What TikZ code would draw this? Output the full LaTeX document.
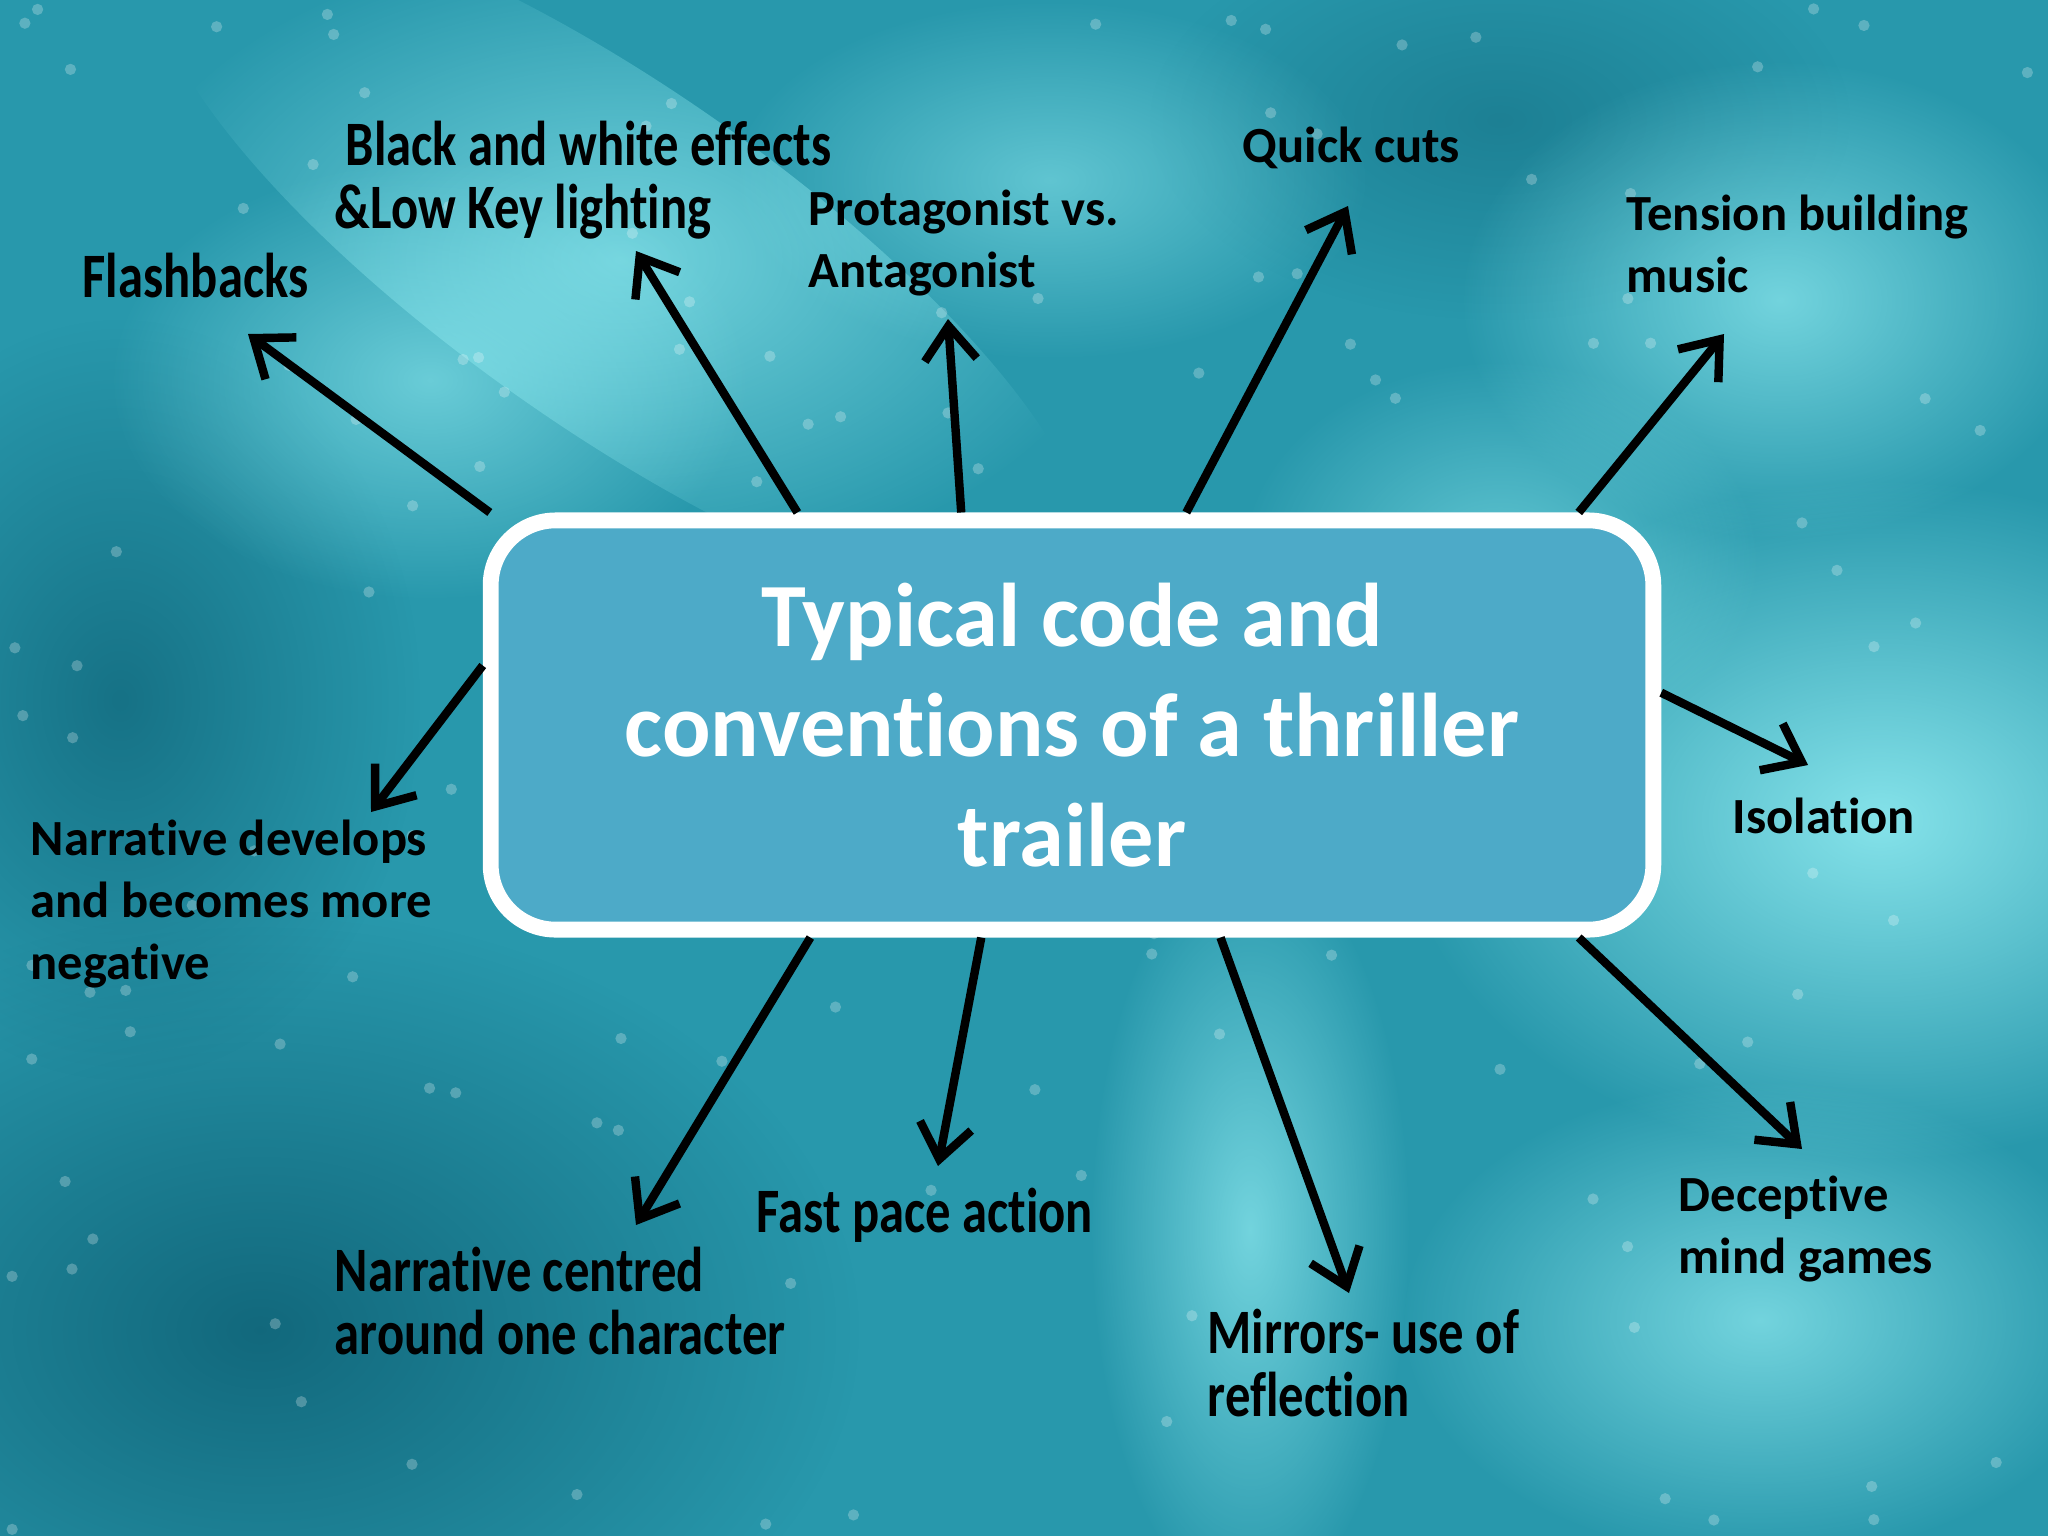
\documentclass[tikz,border=0pt]{standalone}
\usepackage{fontspec}
\setmainfont{Carlito}[Ligatures=NoCommon]
\newfontfamily\tallfont[FakeStretch=0.8,Ligatures=NoCommon]{Carlito}
\usetikzlibrary{arrows.meta,calc,fadings}
\definecolor{boxblue}{RGB}{77,170,200}
\definecolor{seadark}{RGB}{14,96,116}
\definecolor{seamid}{RGB}{40,152,172}
\definecolor{sealight}{RGB}{150,240,245}
\tikzfading[name=softglow, inner color=transparent!15, outer color=transparent!100]
\begin{document}
\begin{tikzpicture}[x=0.01cm,y=-0.01cm,
  arr/.style={line width=2.4pt,-{Straight Barb[length=3.4mm,width=5.2mm]}},
  lbl/.style={anchor=west,align=left,inner sep=0pt,font=\fontsize{14.4}{17.6}\selectfont\bfseries},
  tall/.style={anchor=west,align=left,inner sep=0pt,font=\tallfont\fontsize{18}{17.8}\selectfont\bfseries},
  glow/.style={fill=sealight,path fading=softglow},
  shadow/.style={fill=seadark,path fading=softglow}]
\useasboundingbox (0,0) rectangle (2048,1536);
% sea background
\fill[seamid] (0,0) rectangle (2048,1536);
\fill[shadow] (260,1330) ellipse [x radius=600, y radius=420];
\fill[shadow,opacity=0.8] (120,700) ellipse [x radius=300, y radius=380];
\fill[shadow,opacity=0.5] (1500,120) ellipse [x radius=350, y radius=200];
\fill[glow] (1880,820) ellipse [x radius=480, y radius=340];
\fill[glow,opacity=0.8] (1760,1320) ellipse [x radius=360, y radius=240];
\fill[glow,opacity=0.8] (1250,1230) ellipse [x radius=160, y radius=380];
\fill[glow,opacity=0.8,rotate around={-35:(620,260)}] (620,260) ellipse [x radius=560, y radius=170];
\fill[glow,opacity=0.7] (430,380) ellipse [x radius=320, y radius=220];
\fill[glow,opacity=0.8] (1780,300) ellipse [x radius=320, y radius=240];
\fill[glow,opacity=0.6] (1050,180) ellipse [x radius=320, y radius=180];
\fill[glow,opacity=0.6] (1500,560) ellipse [x radius=260, y radius=200];
\pgfmathsetseed{11}
\foreach \i in {1,...,140}
  \fill[white,opacity=0.25] ({rnd*2048},{rnd*1536}) circle[radius=1.6pt];

% central box
\node[draw=white,line width=4.5pt,fill=boxblue,rounded corners=0.65cm,
  minimum width=11.62cm,minimum height=4.09cm,inner sep=0pt,align=center,
  text=white,font=\fontsize{25.7}{31.2}\selectfont\bfseries]
  (box) at (1072,725) {Typical code and\\conventions of a thriller\\trailer};

% labels
\node[tall] (flash) at (82,276) {Flashbacks};
\node[tall] (bw) at (334,180) {\hspace*{0.11cm}Black and white effects\\\&Low Key lighting};
\node[lbl] (prot) at (808,243) {Protagonist vs.\\Antagonist};
\node[lbl] (quick) at (1242,148) {Quick cuts};
\node[lbl] (music) at (1626,244) {Tension building\\music};
\node[lbl] (iso) at (1732,816) {Isolation};
\node[lbl] (mind) at (1678,1229) {Deceptive\\mind games};
\node[tall] (mirror) at (1207,1363) {Mirrors- use of\\reflection};
\node[tall] (pace) at (756,1215) {Fast pace action};
\node[tall] (centred) at (334,1301) {Narrative centred\\around one character};
\node[lbl] (neg) at (30,904) {Narrative develops\\and becomes more\\negative};

% arrow tips
\coordinate (flashTip) at (248,334);
\coordinate (bwTip) at (636,251);
\coordinate (protTip) at (948,319);
\coordinate (quickTip) at (1348,206);
\coordinate (musicTip) at (1724,334);
\coordinate (isoTip) at (1808,765);
\coordinate (mindTip) at (1802,1149);
\coordinate (mirrorTip) at (1349,1293);
\coordinate (paceTip) at (938,1166);
\coordinate (centredTip) at (636,1225);
\coordinate (negTip) at (371,812);

% arrows
\draw[arr] ($(box.north west)!0.006!(box.north east)$) -- (flashTip);
\draw[arr] ($(box.north west)!0.267!(box.north east)$) -- (bwTip);
\draw[arr] ($(box.north west)!0.406!(box.north east)$) -- (protTip);
\draw[arr] ($(box.north west)!0.597!(box.north east)$) -- (quickTip);
\draw[arr] ($(box.north west)!0.930!(box.north east)$) -- (musicTip);
\draw[arr] ($(box.north east)!0.424!(box.south east)$) -- (isoTip);
\draw[arr] ($(box.south west)!0.930!(box.south east)$) -- (mindTip);
\draw[arr] ($(box.south west)!0.626!(box.south east)$) -- (mirrorTip);
\draw[arr] ($(box.south west)!0.423!(box.south east)$) -- (paceTip);
\draw[arr] ($(box.south west)!0.278!(box.south east)$) -- (centredTip);
\draw[arr] ($(box.north west)!0.36!(box.south west)$) -- (negTip);
\end{tikzpicture}
\end{document}
